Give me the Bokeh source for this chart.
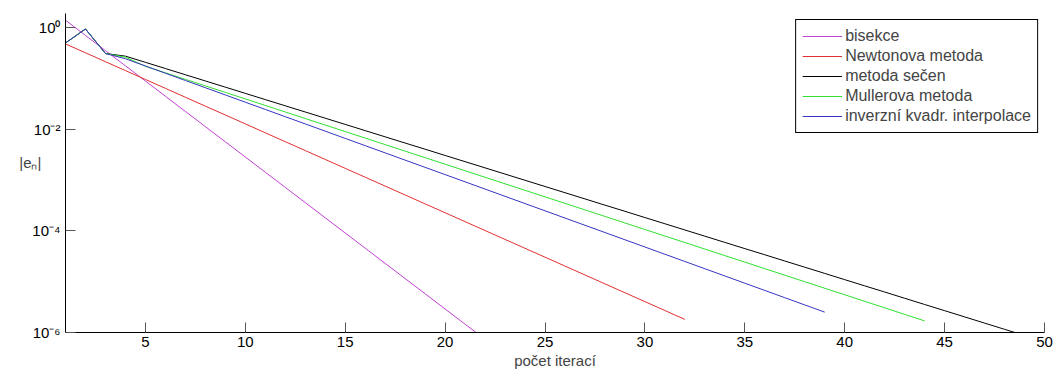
from bokeh.plotting import figure
from bokeh.models import Range1d, FixedTicker, Legend, LegendItem
from bokeh.embed import file_html
from bokeh.resources import INLINE

# ---- data ----
it_bisekce = list(range(1, 23))
e_bisekce = [1.40, 0.703, 0.353, 0.1773, 0.0891, 0.04473, 0.02246, 0.01128, 5.665e-3, 2.845e-3,
             1.429e-3, 7.18e-4, 3.604e-4, 1.810e-4, 9.09e-5, 4.566e-5, 2.293e-5, 1.151e-5,
             5.78e-6, 2.904e-6, 1.459e-6, 7.33e-7]

it_newton = list(range(1, 33))
e_newton = [0.479, 0.320, 0.2139, 0.1430, 0.0956, 0.0639, 0.04272, 0.02855, 0.01909, 0.01276,
            8.53e-3, 5.70e-3, 3.81e-3, 2.55e-3, 1.703e-3, 1.139e-3, 7.61e-4, 5.09e-4, 3.40e-4,
            2.274e-4, 1.52e-4, 1.016e-4, 6.79e-5, 4.54e-5, 3.04e-5, 2.03e-5, 1.357e-5, 9.07e-6,
            6.06e-6, 4.05e-6, 2.71e-6, 1.81e-6]

it_secen = list(range(1, 50))
e_secen = [0.5, 0.94, 0.31, 0.275, 0.2079, 0.1569, 0.1184, 0.0894, 0.0675, 0.0509,
           0.0384, 0.0290, 0.02189, 0.01652, 0.01247, 9.41e-3, 7.10e-3, 5.36e-3, 4.05e-3,
           3.05e-3, 2.305e-3, 1.739e-3, 1.313e-3, 9.91e-4, 7.48e-4, 5.64e-4, 4.26e-4, 3.21e-4,
           2.43e-4, 1.83e-4, 1.382e-4, 1.043e-4, 7.87e-5, 5.94e-5, 4.48e-5, 3.39e-5, 2.555e-5,
           1.929e-5, 1.455e-5, 1.098e-5, 8.29e-6, 6.26e-6, 4.72e-6, 3.56e-6, 2.69e-6, 2.03e-6,
           1.532e-6, 1.156e-6, 8.73e-7]

it_muller = list(range(1, 45))
e_muller = [0.5, 0.94, 0.31, 0.263, 0.1738, 0.1293, 0.0962, 0.0715, 0.0532, 0.0396,
            0.02944, 0.02190, 0.01629, 0.01212, 9.02e-3, 6.71e-3, 4.99e-3, 3.71e-3, 2.76e-3,
            2.054e-3, 1.528e-3, 1.136e-3, 8.45e-4, 6.29e-4, 4.68e-4, 3.48e-4, 2.59e-4, 1.926e-4,
            1.432e-4, 1.065e-4, 7.93e-5, 5.90e-5, 4.39e-5, 3.26e-5, 2.43e-5, 1.805e-5, 1.343e-5,
            9.99e-6, 7.43e-6, 5.53e-6, 4.11e-6, 3.06e-6, 2.275e-6, 1.692e-6]

it_iqi = list(range(1, 40))
e_iqi = [0.5, 0.94, 0.31, 0.2443, 0.1760, 0.1268, 0.0913, 0.0658, 0.0474, 0.0341,
         0.02458, 0.01770, 0.01275, 9.18e-3, 6.61e-3, 4.76e-3, 3.43e-3, 2.47e-3, 1.780e-3,
         1.282e-3, 9.24e-4, 6.65e-4, 4.79e-4, 3.45e-4, 2.485e-4, 1.79e-4, 1.289e-4, 9.29e-5,
         6.69e-5, 4.82e-5, 3.47e-5, 2.50e-5, 1.80e-5, 1.297e-5, 9.34e-6, 6.73e-6, 4.85e-6,
         3.49e-6, 2.515e-6]

series_names = ["bisekce", "Newtonova metoda", "metoda sečen", "Mullerova metoda",
                "inverzní kvadr. interpolace"]
series_colors = ["#c040d0", "#e03030", "#000000", "#30e030", "#3535c0"]

x_ticks = [5, 10, 15, 20, 25, 30, 35, 40, 45, 50]
y_ticks = [1e-6, 1e-4, 1e-2, 1.0]
y_tick_labels = ["10\u207b\u2076", "10\u207b\u2074", "10\u207b\u00b2", "10\u2070"]
x_label = "počet iterací"
y_label = "|e\u2099|"

FONT = "Liberation Sans"

p = figure(width=1056, height=374, y_axis_type="log",
           x_range=Range1d(1, 50), y_range=Range1d(1e-6, 1.9),
           output_backend="svg", toolbar_location=None,
           min_border_left=65, min_border_right=12, min_border_top=13, min_border_bottom=42)
p.outline_line_color = None
p.xgrid.visible = False
p.ygrid.visible = False
p.background_fill_color = "white"
p.border_fill_color = "white"

xs = [it_bisekce, it_newton, it_secen, it_muller, it_iqi]
ys = [e_bisekce, e_newton, e_secen, e_muller, e_iqi]
items = []
for x, y, name, col in zip(xs, ys, series_names, series_colors):
    r = p.line(x, y, line_color=col, line_width=1)
    items.append(LegendItem(label=name, renderers=[r]))

for ax in (p.xaxis[0], p.yaxis[0]):
    ax.axis_line_color = "black"
    ax.axis_line_width = 1
    ax.major_tick_line_color = "#555555"
    ax.major_tick_in = 10
    ax.major_tick_out = 0
    ax.minor_tick_line_color = None
    ax.major_label_text_font = FONT
    ax.major_label_text_font_size = "15px"
    ax.major_label_text_color = "black"

p.xaxis.ticker = FixedTicker(ticks=x_ticks)
p.xaxis.major_label_standoff = 4
p.xaxis.axis_label = x_label
p.xaxis.axis_label_text_font = FONT
p.xaxis.axis_label_text_font_size = "15px"
p.xaxis.axis_label_text_font_style = "normal"
p.xaxis.axis_label_standoff = 2

ya = p.yaxis[0]
ya.ticker = FixedTicker(ticks=y_ticks)
ya.major_label_overrides = {t: lab for t, lab in zip(y_ticks, y_tick_labels)}
ya.major_label_standoff = 5
ya.axis_label = y_label + "\n "
ya.axis_label_orientation = "horizontal"
ya.axis_label_text_font = FONT
ya.axis_label_text_font_size = "15px"
ya.axis_label_text_font_style = "normal"
ya.axis_label_standoff = -12

legend = Legend(items=items, location="top_right")
legend.margin = 6
legend.padding = 6
legend.spacing = 0
legend.glyph_width = 40
legend.glyph_height = 20
legend.label_height = 20
legend.label_standoff = 3
legend.label_text_font = FONT
legend.label_text_font_size = "16px"
legend.border_line_color = "black"
legend.border_line_width = 1
legend.border_line_alpha = 1
legend.background_fill_alpha = 1
p.add_layout(legend)

open("out.html", "w").write(file_html(p, INLINE))
